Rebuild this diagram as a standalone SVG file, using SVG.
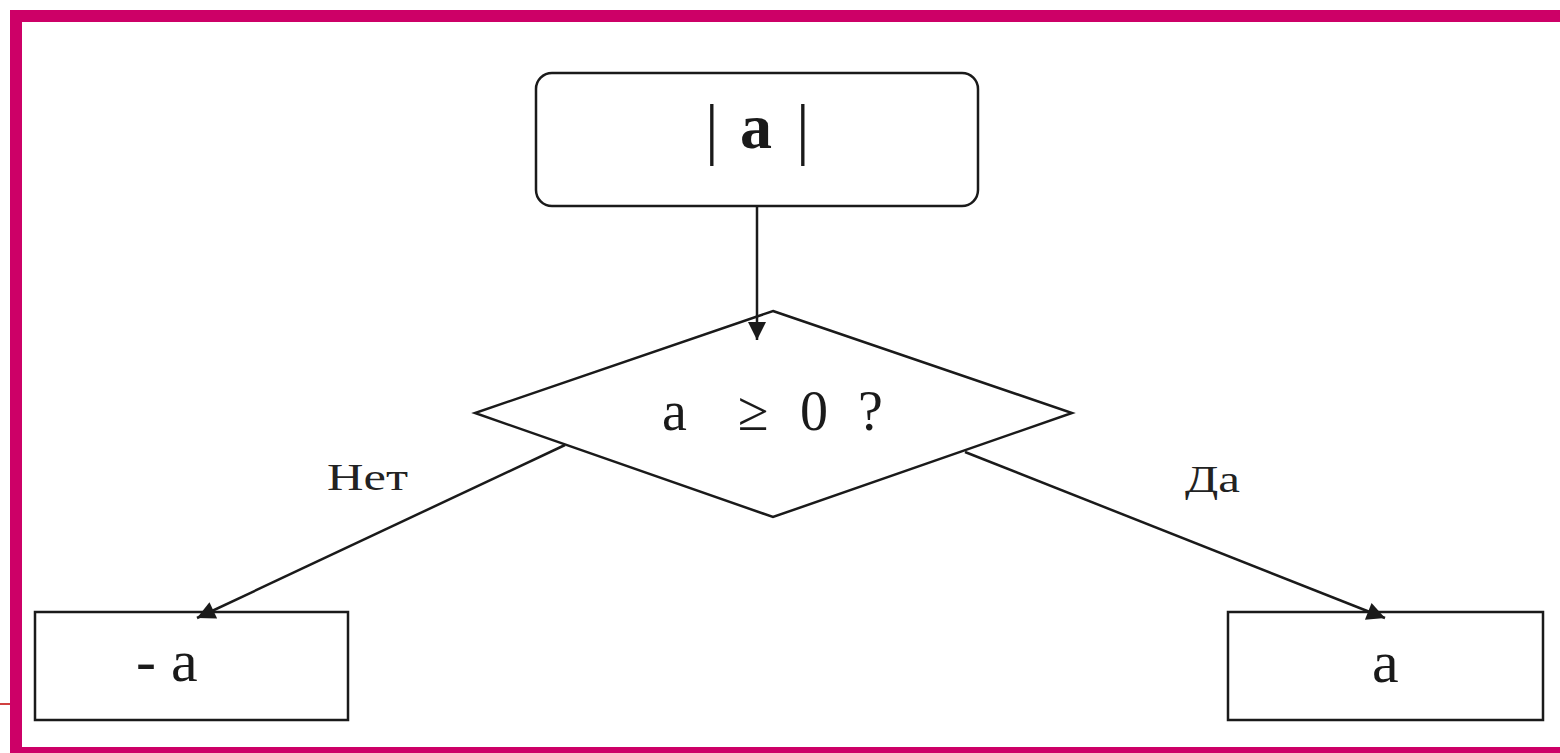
<svg xmlns="http://www.w3.org/2000/svg" width="1560" height="753" viewBox="0 0 1560 753">
<style>
.shape{fill:#fff;stroke:#1a1a1a;stroke-width:2.5}
.conn{fill:none;stroke:#1a1a1a;stroke-width:2.5}
.t{font-family:"Liberation Serif","Times New Roman",serif;fill:#1a1a1a}
.lbl{font-family:"Liberation Serif","Times New Roman",serif;fill:#222;font-size:38px}
.frame{fill:#CD0067}
</style>
<defs>
<marker id="arr" viewBox="0 0 10 10" refX="10" refY="5" markerWidth="20" markerHeight="18" markerUnits="userSpaceOnUse" orient="auto">
<path d="M0,0 L10,5 L0,10 z" fill="#1a1a1a"/>
</marker>
</defs>
<rect width="1560" height="753" fill="#fff"/>
<g id="frame">
<rect class="frame" x="10" y="10" width="1550" height="12"/>
<rect class="frame" x="10" y="10" width="12" height="743"/>
<rect class="frame" x="10" y="747" width="1550" height="6"/>
<line x1="0" y1="704" x2="10" y2="704" stroke="#C00000" stroke-width="1.5"/>
</g>
<g id="start">
<rect class="shape" x="536" y="73" width="442" height="133" rx="16" ry="16"/>
<text class="t" font-size="68"><tspan x="705" y="152">|</tspan><tspan x="740" y="148" font-weight="bold" font-size="64">a</tspan><tspan x="796" y="152">|</tspan></text>
</g>
<g id="decision">
<polygon class="shape" points="773,311 1072,413 773,517 475,413"/>
<text class="t" font-size="56" y="430"><tspan x="662">a</tspan><tspan x="738">≥</tspan><tspan x="800">0</tspan><tspan x="858">?</tspan></text>
</g>
<g id="neg">
<rect class="shape" x="35" y="612" width="313" height="108"/>
<text class="t" font-size="60" x="136" y="681">- a</text>
</g>
<g id="pos">
<rect class="shape" x="1228" y="612" width="315" height="108"/>
<text class="t" font-size="60" x="1372" y="682">a</text>
</g>
<g id="labels">
<text class="lbl" x="327" y="490" textLength="81" lengthAdjust="spacingAndGlyphs">Нет</text>
<text class="lbl" x="1185" y="492" textLength="55" lengthAdjust="spacingAndGlyphs">Да</text>
</g>
<g id="connectors">
<line class="conn" x1="757" y1="206" x2="757" y2="340" marker-end="url(#arr)"/>
<line class="conn" x1="565" y1="445" x2="197" y2="618" marker-end="url(#arr)"/>
<line class="conn" x1="965" y1="452" x2="1385" y2="618" marker-end="url(#arr)"/>
</g>
</svg>
